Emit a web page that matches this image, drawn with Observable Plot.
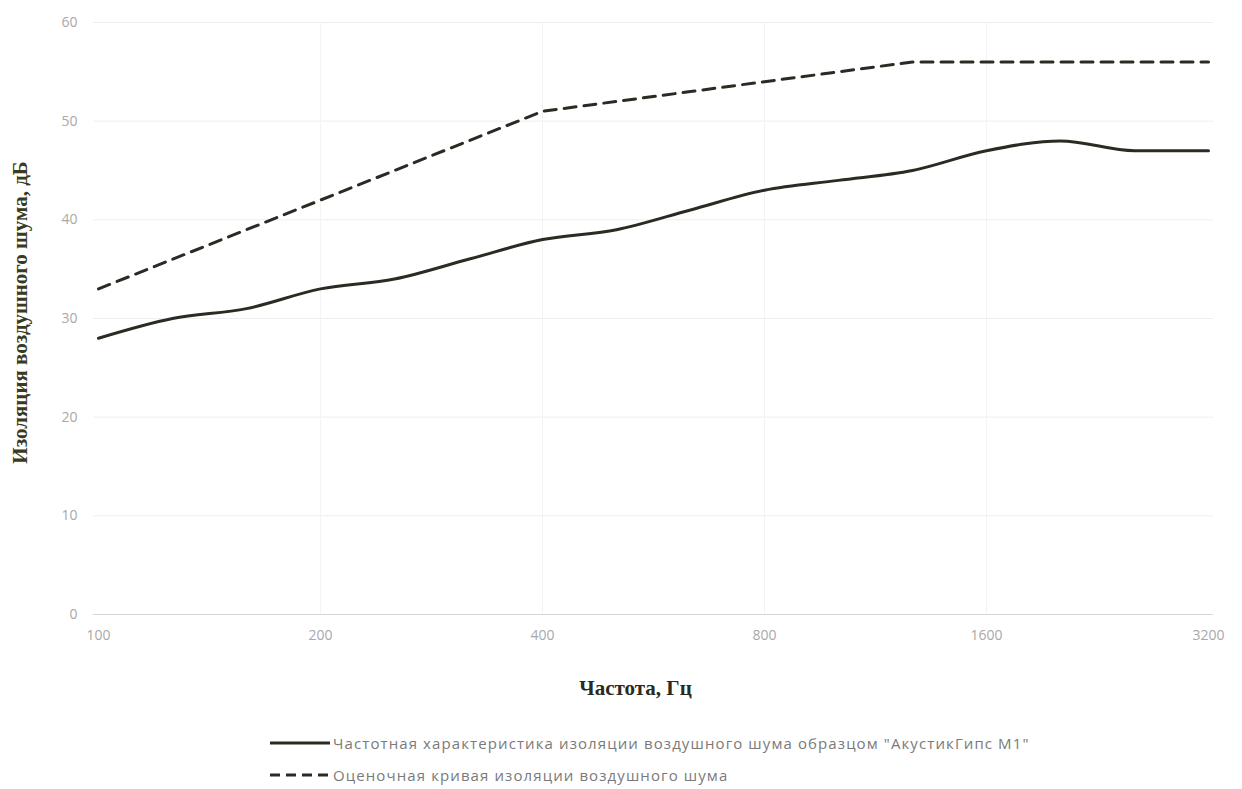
<!DOCTYPE html>
<html>
<head>
<meta charset="utf-8">
<script src="https://cdn.jsdelivr.net/npm/d3@7"></script>
<script src="https://cdn.jsdelivr.net/npm/@observablehq/plot@0.6"></script>
<style>
  html, body { margin: 0; padding: 0; background: #fff; }
  #wrap { position: relative; width: 1242px; height: 789px; overflow: hidden; }
  .legend { position: absolute; left: 270px; font-family: "Open Sans", sans-serif; font-size: 15px; letter-spacing: 1.1px; color: #7a7a7a; display: flex; align-items: center; white-space: nowrap; }
  .legend svg { margin-right: 3px; }
</style>
</head>
<body>
<div id="wrap">
  <div id="chart"></div>
</div>
<script>
const frequencies = ["100","125","160","200","250","315","400","500","630","800","1000","1250","1600","2000","2500","3200"];
const measured   = [28, 30, 31, 33, 34, 36, 38, 39, 41, 43, 44, 45, 47, 48, 47, 47];
const reference  = [33, 36, 39, 42, 45, 48, 51, 52, 53, 54, 55, 56, 56, 56, 56, 56];
const xTicks = ["100","200","400","800","1600","3200"];
const yTicks = [0, 10, 20, 30, 40, 50, 60];
const seriesNames = [
  "Частотная характеристика изоляции воздушного шума образцом \"АкустикГипс М1\"",
  "Оценочная кривая изоляции воздушного шума"
];
const xLabel = "Частота, Гц";
const yLabel = "Изоляция воздушного шума, дБ";

const measuredData = frequencies.map((f, i) => ({f, v: measured[i]}));
const referenceData = frequencies.map((f, i) => ({f, v: reference[i]}));

const lineColor = "#2b2b24";

const chart = Plot.plot({
  width: 1242,
  height: 710,
  marginTop: 22,
  marginBottom: 96,
  marginLeft: 93,
  marginRight: 29,
  style: {fontFamily: "'Open Sans', sans-serif", fontSize: "14px", color: "#a8a8a8", background: "#fff"},
  x: {type: "point", domain: frequencies, padding: 0, label: null},
  y: {domain: [0, 60], label: null},
  marks: [
    Plot.gridY(yTicks, {stroke: "#eeeeee", strokeOpacity: 1}),
    Plot.gridX(xTicks.slice(1, -1), {stroke: "#f3f3f3", strokeOpacity: 1}),
    Plot.ruleY([0], {stroke: "#d6d6d6"}),
    Plot.axisY({ticks: yTicks, tickSize: 0, tickPadding: 16, label: null, fill: "#a8a8a8", fontSize: 14}),
    Plot.axisX({ticks: xTicks, tickSize: 0, tickPadding: 16, label: null, fill: "#a8a8a8", fontSize: 14}),
    Plot.line(referenceData, {x: "f", y: "v", stroke: lineColor, strokeWidth: 3, strokeDasharray: "12,8"}),
    Plot.line(measuredData, {x: "f", y: "v", stroke: lineColor, strokeWidth: 3, curve: "monotone-x"}),
    Plot.text([xLabel], {frameAnchor: "bottom", dy: 80, dx: -18, text: d => d, fontFamily: "'Liberation Serif', 'Times New Roman', serif", fontWeight: "bold", fontSize: 21, fill: "#2a2a20"}),
    Plot.text([yLabel], {frameAnchor: "left", textAnchor: "middle", dx: -73, dy: -6, rotate: -90, text: d => d, fontFamily: "'Liberation Serif', 'Times New Roman', serif", fontWeight: "bold", fontSize: 21, fill: "#3a3a1c"})
  ]
});
document.getElementById("chart").appendChild(chart);

const wrap = document.getElementById("wrap");
const legendRows = [
  {name: seriesNames[0], dash: null, top: 733},
  {name: seriesNames[1], dash: "10,6", top: 765}
];
legendRows.forEach(r => {
  const div = document.createElement("div");
  div.className = "legend";
  div.style.top = r.top + "px";
  const ns = "http://www.w3.org/2000/svg";
  const s = document.createElementNS(ns, "svg");
  s.setAttribute("width", 60); s.setAttribute("height", 20);
  const l = document.createElementNS(ns, "line");
  l.setAttribute("x1", 0); l.setAttribute("x2", 60); l.setAttribute("y1", 10); l.setAttribute("y2", 10);
  l.setAttribute("stroke", lineColor); l.setAttribute("stroke-width", 3);
  if (r.dash) l.setAttribute("stroke-dasharray", r.dash);
  s.appendChild(l);
  div.appendChild(s);
  const t = document.createElement("span");
  t.textContent = r.name;
  div.appendChild(t);
  wrap.appendChild(div);
});
</script>
</body>
</html>
